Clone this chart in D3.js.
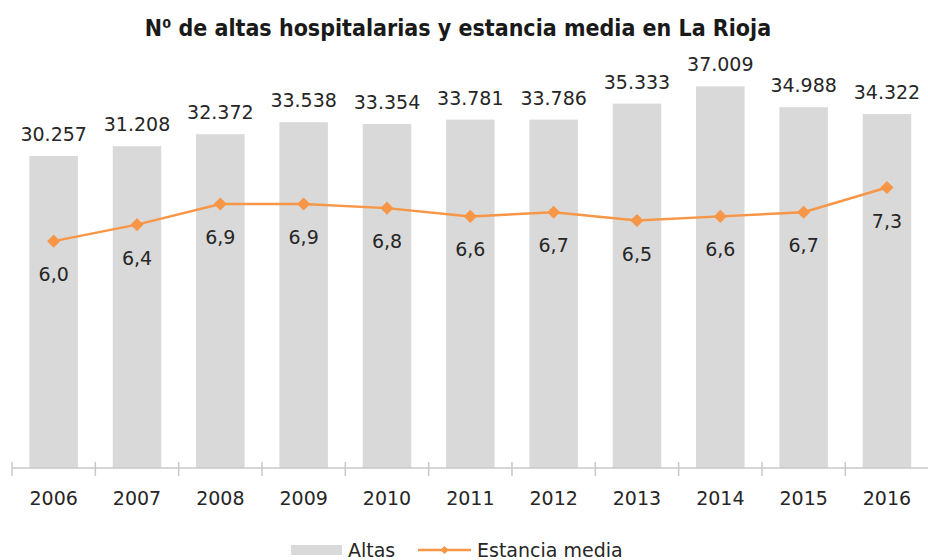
<!DOCTYPE html>
<html>
<head>
<meta charset="utf-8">
<script src="https://cdn.jsdelivr.net/npm/d3@7"></script>
<style>
  body { margin: 0; background: #fff; }
  svg { display: block; font-family: "DejaVu Sans", sans-serif; }
</style>
</head>
<body>
<svg id="chart" width="928" height="560"></svg>
<script>
// data
var years = ["2006", "2007", "2008", "2009", "2010", "2011", "2012", "2013", "2014", "2015", "2016"];
var altas = [30257, 31208, 32372, 33538, 33354, 33781, 33786, 35333, 37009, 34988, 34322];
var estancia = [6.0, 6.4, 6.9, 6.9, 6.8, 6.6, 6.7, 6.5, 6.6, 6.7, 7.3];

var svg = d3.select("#chart");
var barColor = "#d9d9d9";
var lineColor = "#f79646";
var textColor = "#262626";

var x = d3.scaleBand().domain(years).range([12, 12 + 11 * 83.33]).paddingInner(0.418).paddingOuter(0.209);
var y = d3.scaleLinear().domain([0, 40000]).range([468, 55.5]);
var y2 = d3.scaleLinear().domain([0.5, 10.5]).range([468, 55.5]);

var fmtAltas = function (v) { return d3.format(",")(v).replace(/,/g, "."); };
var fmtEst = function (v) { return d3.format(".1f")(v).replace(".", ","); };

// title
svg.append("text")
  .attr("x", 458)
  .attr("y", 36)
  .attr("text-anchor", "middle")
  .style("font-family", "'DejaVu Sans Condensed', 'DejaVu Sans', sans-serif")
  .style("font-weight", "bold")
  .style("font-size", "23px")
  .style("fill", "#1a1a1a")
  .text("N\u2070 de altas hospitalarias y estancia media en La Rioja");

// bars
svg.selectAll("rect.bar")
  .data(altas)
  .join("rect")
  .attr("class", "bar")
  .attr("x", (d, i) => x(years[i]))
  .attr("y", d => y(d))
  .attr("width", x.bandwidth())
  .attr("height", d => y(0) - y(d))
  .attr("fill", barColor);

svg.selectAll("text.barlabel")
  .data(altas)
  .join("text")
  .attr("class", "barlabel")
  .attr("x", (d, i) => x(years[i]) + x.bandwidth() / 2)
  .attr("y", d => y(d) - 15)
  .attr("text-anchor", "middle")
  .style("font-size", "19px")
  .style("fill", textColor)
  .text(d => fmtAltas(d));

// x axis: line + ticks at band boundaries
var axisG = svg.append("g");
axisG.append("line")
  .attr("x1", 12).attr("x2", 928)
  .attr("y1", y(0)).attr("y2", y(0))
  .attr("stroke", "#c8c8c8").attr("stroke-width", 1.5);
axisG.selectAll("line.tick")
  .data(d3.range(0, 11))
  .join("line")
  .attr("class", "tick")
  .attr("x1", i => x(years[i]) - x.bandwidth() * 0.209 / 0.582)
  .attr("x2", i => x(years[i]) - x.bandwidth() * 0.209 / 0.582)
  .attr("y1", y(0) - 6).attr("y2", y(0) + 8)
  .attr("stroke", "#c8c8c8").attr("stroke-width", 1.5);
axisG.selectAll("text.year")
  .data(years)
  .join("text")
  .attr("class", "year")
  .attr("x", d => x(d) + x.bandwidth() / 2)
  .attr("y", 505)
  .attr("text-anchor", "middle")
  .style("font-size", "19px")
  .style("fill", textColor)
  .text(d => d);

// line
var line = d3.line()
  .x((d, i) => x(years[i]) + x.bandwidth() / 2)
  .y(d => y2(d));

svg.append("path")
  .datum(estancia)
  .attr("d", line)
  .attr("fill", "none")
  .attr("stroke", lineColor)
  .attr("stroke-width", 2.5);

var diamond = d3.symbol().type(d3.symbolSquare).size(85);
svg.selectAll("path.marker")
  .data(estancia)
  .join("path")
  .attr("class", "marker")
  .attr("d", diamond)
  .attr("transform", (d, i) => "translate(" + (x(years[i]) + x.bandwidth() / 2) + "," + y2(d) + ") rotate(45)")
  .attr("fill", lineColor);

svg.selectAll("text.estlabel")
  .data(estancia)
  .join("text")
  .attr("class", "estlabel")
  .attr("x", (d, i) => x(years[i]) + x.bandwidth() / 2)
  .attr("y", d => y2(d) + 40)
  .attr("text-anchor", "middle")
  .style("font-size", "19px")
  .style("fill", textColor)
  .text(d => fmtEst(d));

// legend
var legend = svg.append("g");
legend.append("rect")
  .attr("x", 291).attr("y", 545).attr("width", 51).attr("height", 10)
  .attr("fill", barColor);
legend.append("text")
  .attr("x", 348).attr("y", 557)
  .style("font-size", "19px").style("fill", textColor)
  .text("Altas");
legend.append("line")
  .attr("x1", 418).attr("x2", 471).attr("y1", 550).attr("y2", 550)
  .attr("stroke", lineColor).attr("stroke-width", 2.5);
legend.append("path")
  .attr("d", d3.symbol().type(d3.symbolSquare).size(34))
  .attr("transform", "translate(444.5,550) rotate(45)")
  .attr("fill", lineColor);
legend.append("text")
  .attr("x", 477).attr("y", 557)
  .style("font-size", "19px").style("fill", textColor)
  .text("Estancia media");
</script>
</body>
</html>
